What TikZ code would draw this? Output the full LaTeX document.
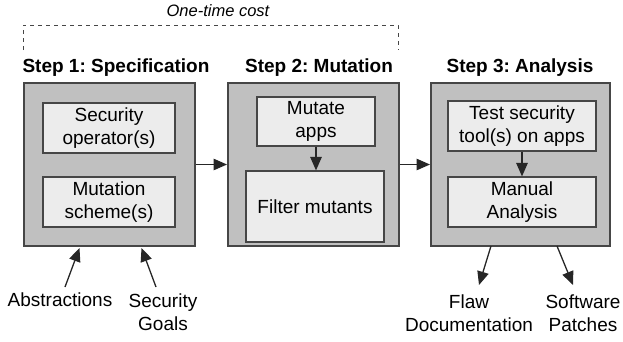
\documentclass[tikz,border=0pt]{standalone}
\usepackage{fontspec}
\setmainfont{Liberation Sans}
\usetikzlibrary{arrows.meta}
\definecolor{outerfill}{RGB}{192,192,192}
\definecolor{innerfill}{RGB}{236,236,236}
\definecolor{edge}{RGB}{70,70,70}
\frenchspacing
\begin{document}
\begin{tikzpicture}[x=1pt,y=-1pt,
  txt/.style={font=\fontsize{19}{23.3}\selectfont, align=center, inner sep=0pt},
  ttl/.style={font=\fontsize{19}{23.3}\selectfont\bfseries, inner sep=0pt},
  outerbox/.style={draw=edge, fill=outerfill, line width=2pt, inner sep=0pt},
  innerbox/.style={draw=edge, fill=innerfill, line width=1.2pt, inner sep=0pt, txt},
  arr/.style={draw=black!85, line width=1.3pt, -{Triangle[length=13.5pt,width=11.5pt]}},
  bracket/.style={draw=edge, line width=0.9pt, dash pattern=on 4pt off 4pt}
]
\useasboundingbox (0,0) rectangle (623,341);

% one-time cost bracket
\coordinate (bl) at (23,50);
\coordinate (tl) at (23,25);
\coordinate (tr) at (398,25);
\coordinate (br) at (398,50);
\draw[bracket] (bl) -- (tl) -- (tr) -- (br);
\node[font=\fontsize{16.5}{20}\selectfont\itshape, inner sep=0pt] (cost) at (218,11) {One-time cost};

% titles
\node[ttl] (t1) at (116,68) {Step 1: Specification};
\node[ttl] (t2) at (319,68) {Step 2: Mutation};
\node[ttl] (t3) at (520,68) {Step 3: Analysis};

% outer boxes
\node[outerbox, minimum width=171pt, minimum height=163pt] (b1) at (109.5,164.5) {};
\node[outerbox, minimum width=171pt, minimum height=163pt] (b2) at (313.5,164.5) {};
\node[outerbox, minimum width=179pt, minimum height=163pt] (b3) at (520.5,164.5) {};

% inner boxes
\node[innerbox, minimum width=132pt, minimum height=50pt] (sec) at (109,128) {Security\\operator(s)};
\node[innerbox, minimum width=132pt, minimum height=50pt] (sch) at (109,202) {Mutation\\scheme(s)};
\node[innerbox, minimum width=118pt, minimum height=49pt] (mut) at (316,121.5) {Mutate\\apps};
\node[innerbox, minimum width=138pt, minimum height=71pt] (fil) at (315,206.5) {Filter mutants};
\node[innerbox, minimum width=148pt, minimum height=50pt] (test) at (522,126) {Test security\\tool(s) on apps};
\node[innerbox, minimum width=148pt, minimum height=50pt] (man) at (522,202) {Manual\\Analysis};

% arrows between steps
\draw[arr] (b1) -- (b2);
\draw[arr] (b2) -- (b3);
\draw[arr] (mut.south -| 316,0) -- (fil.north -| 316,0);
\draw[arr] (test) -- (man);

% bottom labels
\node[txt] (abs) at (60,300) {Abstractions};
\node[txt] (goals) at (163,312) {Security\\Goals};
\node[txt] (flaw) at (469,313) {Flaw\\Documentation};
\node[txt] (patch) at (583,313) {Software\\Patches};

% bottom arrows
\coordinate (absT) at (65,287);
\coordinate (absH) at (79.5,248);
\coordinate (golT) at (156,287);
\coordinate (golH) at (141.5,248);
\coordinate (flwT) at (491,246);
\coordinate (flwH) at (479,285);
\coordinate (patT) at (557,246);
\coordinate (patH) at (573,285);
\draw[arr] (absT) -- (absH);
\draw[arr] (golT) -- (golH);
\draw[arr] (flwT) -- (flwH);
\draw[arr] (patT) -- (patH);
\end{tikzpicture}
\end{document}
